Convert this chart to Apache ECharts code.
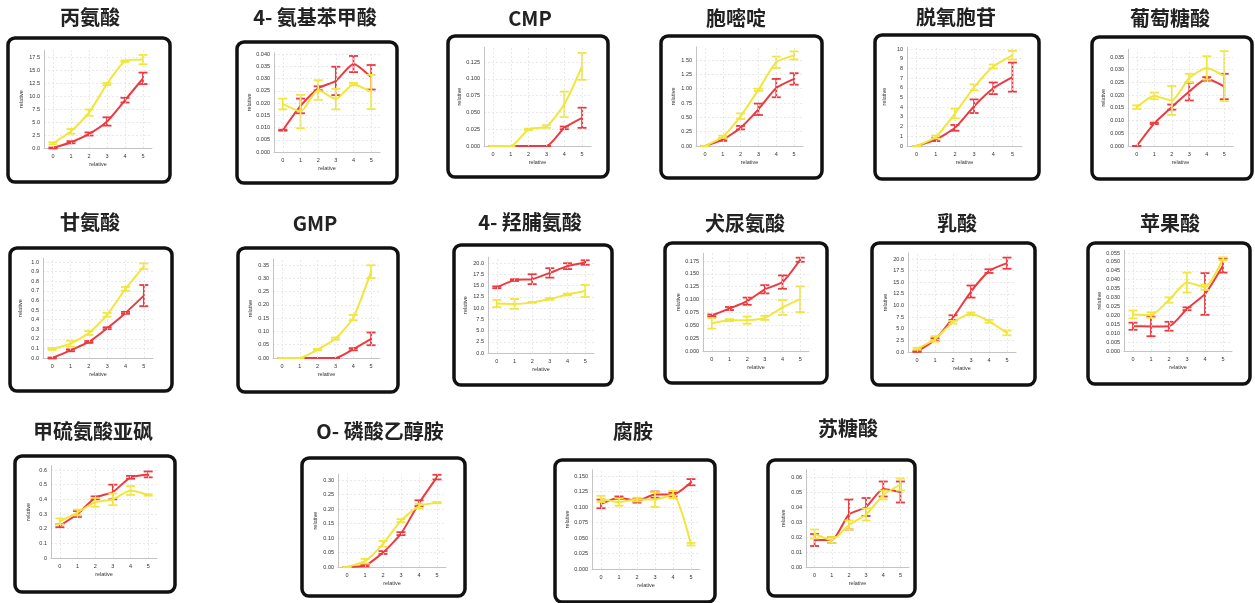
<!DOCTYPE html>
<html>
<head>
<meta charset="utf-8">
<script src="https://cdn.jsdelivr.net/npm/echarts@6/dist/echarts.min.js"></script>
<style>
html, body { margin: 0; padding: 0; background: #fff; }
#chart { width: 1255px; height: 603px; }
</style>
</head>
<body>
<div id="chart"></div>
<script>
// Time points shared by every panel
const categories = ['0', '1', '2', '3', '4', '5'];

// Each metabolite: mean of the red and yellow groups, plus half-width of the error bar
const alaRed = [0.0, 1.1, 2.7, 5.1, 9.2, 13.4];
const alaRedErr = [0.1, 0.2, 0.3, 0.8, 0.45, 1.1];
const alaYel = [0.9, 3.2, 6.8, 12.3, 16.7, 17.0];
const alaYelErr = [0.2, 0.45, 0.6, 0.2, 0.15, 0.9];
const alaTicks = ['0.0', '2.5', '5.0', '7.5', '10.0', '12.5', '15.0', '17.5'];

const pabaRed = [0.0089, 0.0188, 0.026, 0.029, 0.0359, 0.0305];
const pabaRedErr = [0.0002, 0.003, 0.0008, 0.0058, 0.0033, 0.005];
const pabaYel = [0.0196, 0.0165, 0.0253, 0.0216, 0.0277, 0.0245];
const pabaYelErr = [0.0022, 0.0068, 0.004, 0.0042, 0.0005, 0.007];
const pabaTicks = ['0.000', '0.005', '0.010', '0.015', '0.020', '0.025', '0.030', '0.035', '0.040'];

const cmpRed = [0, 0, 0, 0, 0.027, 0.042];
const cmpRedErr = [0, 0, 0, 0, 0.002, 0.015];
const cmpYel = [0, 0, 0.0248, 0.029, 0.062, 0.1185];
const cmpYelErr = [0, 0, 0.001, 0.002, 0.019, 0.02];
const cmpTicks = ['0.000', '0.025', '0.050', '0.075', '0.100', '0.125'];

const cytRed = [0, 0.11, 0.32, 0.64, 1.01, 1.17];
const cytRedErr = [0, 0.02, 0.03, 0.1, 0.16, 0.1];
const cytYel = [0, 0.16, 0.52, 0.98, 1.46, 1.58];
const cytYelErr = [0, 0.02, 0.05, 0.02, 0.1, 0.07];
const cytTicks = ['0.00', '0.25', '0.50', '0.75', '1.00', '1.25', '1.50'];

const dcytRed = [0, 0.66, 1.87, 4.1, 5.95, 7.1];
const dcytRedErr = [0, 0.15, 0.3, 0.7, 0.6, 1.5];
const dcytYel = [0, 0.93, 3.35, 6.05, 8.2, 9.35];
const dcytYelErr = [0, 0.15, 0.5, 0.3, 0.2, 0.45];
const dcytTicks = ['0', '1', '2', '3', '4', '5', '6', '7', '8', '9', '10'];

const glcaRed = [0, 0.0089, 0.0153, 0.0214, 0.0264, 0.0234];
const glcaRedErr = [0, 0.0003, 0.001, 0.0035, 0.0007, 0.005];
const glcaYel = [0.0153, 0.0197, 0.0179, 0.0267, 0.0307, 0.0275];
const glcaYelErr = [0.0007, 0.0013, 0.0057, 0.0017, 0.0046, 0.0098];
const glcaTicks = ['0.000', '0.005', '0.010', '0.015', '0.020', '0.025', '0.030', '0.035'];

const glyRed = [0, 0.08, 0.167, 0.31, 0.47, 0.65];
const glyRedErr = [0.005, 0.01, 0.01, 0.01, 0.01, 0.11];
const glyYel = [0.094, 0.15, 0.26, 0.45, 0.72, 0.955];
const glyYelErr = [0.01, 0.03, 0.02, 0.02, 0.02, 0.03];
const glyTicks = ['0.0', '0.1', '0.2', '0.3', '0.4', '0.5', '0.6', '0.7', '0.8', '0.9', '1.0'];

const gmpRed = [0, 0, 0, 0, 0.033, 0.072];
const gmpRedErr = [0, 0, 0, 0, 0.004, 0.024];
const gmpYel = [0, 0, 0.0315, 0.073, 0.152, 0.325];
const gmpYelErr = [0, 0, 0.003, 0.004, 0.01, 0.024];
const gmpTicks = ['0.00', '0.05', '0.10', '0.15', '0.20', '0.25', '0.30', '0.35'];

const hypRed = [14.6, 16.2, 16.4, 17.8, 19.3, 20.1];
const hypRedErr = [0.2, 0.2, 1.1, 1.05, 0.65, 0.5];
const hypYel = [11.0, 10.9, 11.25, 12.0, 13.0, 13.8];
const hypYelErr = [0.8, 1.1, 0.1, 0.2, 0.2, 1.35];
const hypTicks = ['0.0', '2.5', '5.0', '7.5', '10.0', '12.5', '15.0', '17.5', '20.0'];

const kynRed = [0.069, 0.0826, 0.0968, 0.12, 0.134, 0.1775];
const kynRedErr = [0.002, 0.003, 0.007, 0.008, 0.013, 0.004];
const kynYel = [0.0536, 0.06, 0.06, 0.0645, 0.0846, 0.1007];
const kynYelErr = [0.01, 0.002, 0.007, 0.004, 0.0145, 0.025];
const kynTicks = ['0.000', '0.025', '0.050', '0.075', '0.100', '0.125', '0.150', '0.175'];

const lacRed = [0.1, 2.65, 7.4, 13.0, 17.4, 19.1];
const lacRedErr = [0.1, 0.3, 0.5, 1.3, 0.4, 1.2];
const lacYel = [0.7, 2.8, 6.4, 8.2, 6.6, 4.1];
const lacYelErr = [0.2, 0.6, 0.3, 0.3, 0.3, 0.5];
const lacTicks = ['0.0', '2.5', '5.0', '7.5', '10.0', '12.5', '15.0', '17.5', '20.0'];

const malRed = [0.0139, 0.0138, 0.0139, 0.0237, 0.032, 0.048];
const malRedErr = [0.002, 0.0055, 0.0025, 0.0008, 0.0117, 0.004];
const malYel = [0.0205, 0.0202, 0.0286, 0.0384, 0.0358, 0.0518];
const malYelErr = [0.0022, 0.0015, 0.0015, 0.0056, 0.0015, 0.0008];
const malTicks = ['0.000', '0.005', '0.010', '0.015', '0.020', '0.025', '0.030', '0.035', '0.040', '0.045', '0.050', '0.055'];

const msoRed = [0.22, 0.30, 0.41, 0.45, 0.55, 0.57];
const msoRedErr = [0.01, 0.02, 0.01, 0.05, 0.01, 0.02];
const msoYel = [0.25, 0.31, 0.38, 0.40, 0.46, 0.43];
const msoYelErr = [0.02, 0.02, 0.03, 0.04, 0.03, 0.005];
const msoTicks = ['0', '0.1', '0.2', '0.3', '0.4', '0.5', '0.6'];

const peaRed = [0, 0.005, 0.05, 0.115, 0.22, 0.31];
const peaRedErr = [0, 0.003, 0.005, 0.005, 0.01, 0.008];
const peaYel = [0, 0.02, 0.08, 0.16, 0.21, 0.222];
const peaYelErr = [0, 0.008, 0.01, 0.005, 0.008, 0.002];
const peaTicks = ['0.00', '0.05', '0.10', '0.15', '0.20', '0.25', '0.30'];

const putRed = [0.105, 0.115, 0.11, 0.12, 0.12, 0.14];
const putRedErr = [0.007, 0.002, 0.003, 0.005, 0.003, 0.005];
const putYel = [0.113, 0.108, 0.112, 0.112, 0.12, 0.04];
const putYelErr = [0.005, 0.006, 0.003, 0.012, 0.006, 0.002];
const putTicks = ['0.000', '0.025', '0.050', '0.075', '0.100', '0.125', '0.150'];

const thrRed = [0.018, 0.018, 0.035, 0.04, 0.052, 0.05];
const thrRedErr = [0.004, 0.002, 0.01, 0.006, 0.005, 0.007];
const thrYel = [0.022, 0.018, 0.028, 0.035, 0.048, 0.055];
const thrYelErr = [0.003, 0.002, 0.003, 0.004, 0.003, 0.004];
const thrTicks = ['0.00', '0.01', '0.02', '0.03', '0.04', '0.05', '0.06'];

const RED = '#ec3a40';
const YELLOW = '#f0e63c';

// Panel layout: title anchor, framed box, plot rectangle (left/right/bottom and
// pixel row of the last tick) and the value at the top of each y axis
const panels = [
  { name: '丙氨酸', red: alaRed, redErr: alaRedErr, yel: alaYel, yelErr: alaYelErr, ticks: alaTicks, yMax: 18.8,
    title: [90, 17], box: [8, 38, 170, 182], plot: { left: 44, right: 152, bottom: 148, tickY: 57 } },
  { name: '4- 氨基苯甲酸', red: pabaRed, redErr: pabaRedErr, yel: pabaYel, yelErr: pabaYelErr, ticks: pabaTicks, yMax: 0.0405,
    title: [315, 17], box: [237, 42, 397, 183], plot: { left: 274, right: 380, bottom: 152, tickY: 54 } },
  { name: 'CMP', red: cmpRed, redErr: cmpRedErr, yel: cmpYel, yelErr: cmpYelErr, ticks: cmpTicks, yMax: 0.147,
    title: [530, 18], box: [448, 36, 608, 177], plot: { left: 484, right: 591, bottom: 146, tickY: 62 } },
  { name: '胞嘧啶', red: cytRed, redErr: cytRedErr, yel: cytYel, yelErr: cytYelErr, ticks: cytTicks, yMax: 1.73,
    title: [736, 18], box: [661, 36, 822, 178], plot: { left: 696, right: 803, bottom: 146, tickY: 60 } },
  { name: '脱氧胞苷', red: dcytRed, redErr: dcytRedErr, yel: dcytYel, yelErr: dcytYelErr, ticks: dcytTicks, yMax: 10.2,
    title: [956, 17], box: [875, 35, 1039, 179], plot: { left: 907, right: 1022, bottom: 146, tickY: 49 } },
  { name: '葡萄糖酸', red: glcaRed, redErr: glcaRedErr, yel: glcaYel, yelErr: glcaYelErr, ticks: glcaTicks, yMax: 0.038,
    title: [1170, 18], box: [1092, 37, 1252, 179], plot: { left: 1128, right: 1233, bottom: 146, tickY: 57 } },
  { name: '甘氨酸', red: glyRed, redErr: glyRedErr, yel: glyYel, yelErr: glyYelErr, ticks: glyTicks, yMax: 1.04,
    title: [90, 222], box: [10, 248, 172, 391], plot: { left: 43, right: 153, bottom: 358, tickY: 262 } },
  { name: 'GMP', red: gmpRed, redErr: gmpRedErr, yel: gmpYel, yelErr: gmpYelErr, ticks: gmpTicks, yMax: 0.373,
    title: [315, 223], box: [238, 248, 398, 392], plot: { left: 273, right: 380, bottom: 358, tickY: 265 } },
  { name: '4- 羟脯氨酸', red: hypRed, redErr: hypRedErr, yel: hypYel, yelErr: hypYelErr, ticks: hypTicks, yMax: 21.3,
    title: [530, 222], box: [454, 245, 612, 385], plot: { left: 488, right: 594, bottom: 353, tickY: 263 } },
  { name: '犬尿氨酸', red: kynRed, redErr: kynRedErr, yel: kynYel, yelErr: kynYelErr, ticks: kynTicks, yMax: 0.19,
    title: [745, 223], box: [665, 243, 827, 383], plot: { left: 703, right: 809, bottom: 351, tickY: 261 } },
  { name: '乳酸', red: lacRed, redErr: lacRedErr, yel: lacYel, yelErr: lacYelErr, ticks: lacTicks, yMax: 21.3,
    title: [957, 223], box: [872, 243, 1035, 385], plot: { left: 908, right: 1016, bottom: 352, tickY: 259 } },
  { name: '苹果酸', red: malRed, redErr: malRedErr, yel: malYel, yelErr: malYelErr, ticks: malTicks, yMax: 0.0565,
    title: [1170, 223], box: [1088, 243, 1250, 384], plot: { left: 1124, right: 1232, bottom: 351, tickY: 253 } },
  { name: '甲硫氨酸亚砜', red: msoRed, redErr: msoRedErr, yel: msoYel, yelErr: msoYelErr, ticks: msoTicks, yMax: 0.63,
    title: [93, 431], box: [15, 456, 175, 592], plot: { left: 51, right: 157, bottom: 558, tickY: 470 } },
  { name: 'O- 磷酸乙醇胺', red: peaRed, redErr: peaRedErr, yel: peaYel, yelErr: peaYelErr, ticks: peaTicks, yMax: 0.32,
    title: [380, 431], box: [302, 458, 465, 596], plot: { left: 338, right: 446, bottom: 567, tickY: 480 } },
  { name: '腐胺', red: putRed, redErr: putRedErr, yel: putYel, yelErr: putYelErr, ticks: putTicks, yMax: 0.16,
    title: [633, 431], box: [555, 460, 715, 602], plot: { left: 592, right: 700, bottom: 569, tickY: 476 } },
  { name: '苏糖酸', red: thrRed, redErr: thrRedErr, yel: thrYel, yelErr: thrYelErr, ticks: thrTicks, yMax: 0.065,
    title: [848, 428], box: [768, 460, 915, 596], plot: { left: 806, right: 909, bottom: 567, tickY: 477 } }
];

const LABEL_FONT = 'Liberation Sans';
const grids = [], xAxes = [], yAxes = [], series = [], graphics = [];

// Vertical error bar with short caps at both ends
function errorBarSeries(i, mean, err, color) {
  return {
    type: 'custom',
    xAxisIndex: i,
    yAxisIndex: i,
    z: 4,
    silent: true,
    animation: false,
    data: mean.map((m, k) => [k, m - err[k], m + err[k]]),
    encode: { x: 0, y: [1, 2] },
    renderItem: (params, api) => {
      const x = api.value(0);
      const lo = api.coord([x, api.value(1)]);
      const hi = api.coord([x, api.value(2)]);
      const w = 4.5;
      const style = { stroke: color, lineWidth: 1.8 };
      return {
        type: 'group',
        children: [
          { type: 'line', shape: { x1: lo[0], y1: lo[1], x2: hi[0], y2: hi[1] }, style },
          { type: 'line', shape: { x1: lo[0] - w, y1: lo[1], x2: lo[0] + w, y2: lo[1] }, style },
          { type: 'line', shape: { x1: hi[0] - w, y1: hi[1], x2: hi[0] + w, y2: hi[1] }, style }
        ]
      };
    }
  };
}

panels.forEach((p, i) => {
  const tickVals = p.ticks.map(Number);
  const interval = tickVals[1] - tickVals[0];
  const last = tickVals[tickVals.length - 1];
  const pl = p.plot;
  const top = pl.bottom - (pl.bottom - pl.tickY) * p.yMax / last;

  grids.push({ left: pl.left, top: top, width: pl.right - pl.left, height: pl.bottom - top });

  xAxes.push({
    gridIndex: i,
    type: 'category',
    data: categories,
    boundaryGap: true,
    axisLine: { lineStyle: { color: '#c4c4c4', width: 1 } },
    axisTick: { show: false },
    axisLabel: { fontSize: 5.5, color: '#333', margin: 5, fontFamily: LABEL_FONT },
    splitLine: { show: false },
    name: 'relative',
    nameLocation: 'middle',
    nameGap: 13,
    nameTextStyle: { fontSize: 5.5, color: '#333', fontFamily: LABEL_FONT }
  });

  yAxes.push({
    gridIndex: i,
    type: 'value',
    min: 0,
    max: p.yMax,
    interval: interval,
    axisLine: { show: true, lineStyle: { color: '#c4c4c4', width: 1 } },
    axisTick: { show: false },
    axisLabel: {
      fontSize: 5.5,
      color: '#333',
      margin: 4,
      fontFamily: LABEL_FONT,
      showMaxLabel: false,
      formatter: v => {
        const k = tickVals.findIndex(t => Math.abs(t - v) < interval * 1e-3);
        return k >= 0 ? p.ticks[k] : '';
      }
    },
    splitLine: { show: true, showMaxLine: false, lineStyle: { color: '#e4e4e4', type: [2, 2], width: 0.8 } },
    name: 'relative',
    nameLocation: 'middle',
    nameRotate: 90,
    nameGap: 20,
    nameTextStyle: { fontSize: 5.5, color: '#333', fontFamily: LABEL_FONT }
  });

  // vertical guides through each time point
  series.push({
    type: 'line',
    xAxisIndex: i,
    yAxisIndex: i,
    data: [],
    z: 1,
    silent: true,
    animation: false,
    markLine: {
      silent: true,
      symbol: 'none',
      label: { show: false },
      lineStyle: { color: '#e4e4e4', type: [2, 2], width: 0.8 },
      data: categories.map(c => ({ xAxis: c }))
    }
  });

  series.push({
    type: 'line', xAxisIndex: i, yAxisIndex: i, data: p.red, z: 3,
    symbol: 'none', smooth: 0.2, animation: false,
    lineStyle: { color: RED, width: 2 }
  });
  series.push(errorBarSeries(i, p.red, p.redErr, RED));
  series.push({
    type: 'line', xAxisIndex: i, yAxisIndex: i, data: p.yel, z: 5,
    symbol: 'none', smooth: 0.2, animation: false,
    lineStyle: { color: YELLOW, width: 2 }
  });
  series.push(errorBarSeries(i, p.yel, p.yelErr, YELLOW));

  graphics.push({
    type: 'rect',
    z: 10,
    silent: true,
    shape: { x: p.box[0], y: p.box[1], width: p.box[2] - p.box[0], height: p.box[3] - p.box[1], r: 7 },
    style: { fill: null, stroke: '#111', lineWidth: 3.5 }
  });
  graphics.push({
    type: 'text',
    z: 10,
    silent: true,
    x: p.title[0],
    y: p.title[1],
    style: {
      text: p.name,
      font: 'bold 20px "Noto Sans CJK SC"',
      fill: '#222',
      align: 'center',
      verticalAlign: 'middle'
    }
  });
});

const chart = echarts.init(document.getElementById('chart'), null, { renderer: 'canvas' });
chart.setOption({
  backgroundColor: '#fff',
  animation: false,
  grid: grids,
  xAxis: xAxes,
  yAxis: yAxes,
  series: series,
  graphic: graphics
});
</script>
</body>
</html>
